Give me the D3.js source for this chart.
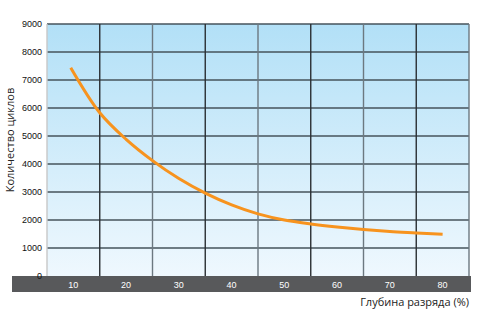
<!DOCTYPE html>
<meta charset="utf-8">
<body style="margin:0;background:#fff">
<style>
  .tick-y { font-family: "Liberation Sans", Arial, sans-serif; font-size: 9px; fill: #111; }
  .tick-x { font-family: "Liberation Sans", Arial, sans-serif; font-size: 9px; fill: #fff; }
  .title { font-family: "Open Sans", sans-serif; font-size: 11px; fill: #222; }
</style>
<svg width="484" height="330"></svg>
<script src="https://d3js.org/d3.v7.min.js"></script>
<script>

// data
var depth  = [9.5, 15, 20, 25, 30, 35, 40, 45, 50, 55, 60, 65, 70, 75, 80];
var cycles = [7440, 5830, 4880, 4120, 3480, 2960, 2540, 2220, 2000, 1860, 1750, 1660, 1590, 1540, 1490];
var xTicks = [10, 20, 30, 40, 50, 60, 70, 80];
var yTicks = [0, 1000, 2000, 3000, 4000, 5000, 6000, 7000, 8000, 9000];

var svg = d3.select("svg");
var plotL = 47, plotR = 469, plotT = 24, plotB = 276;

var x = d3.scaleLinear().domain([5, 85]).range([plotL, plotR]);
var y = d3.scaleLinear().domain([0, 9000]).range([plotB, plotT]);

// background gradient
var grad = svg.append("defs").append("linearGradient")
    .attr("id", "bg").attr("x1", 0).attr("y1", 0).attr("x2", 0).attr("y2", 1);
grad.append("stop").attr("offset", "0%").attr("stop-color", "#b2e0f7");
grad.append("stop").attr("offset", "100%").attr("stop-color", "#eff8fe");

svg.append("rect")
    .attr("x", plotL).attr("y", plotT)
    .attr("width", plotR - plotL).attr("height", plotB - plotT)
    .attr("fill", "url(#bg)");

// grid
var grid = svg.append("g");
grid.selectAll(".h").data(yTicks.slice(1)).enter().append("line")
    .attr("x1", plotL).attr("x2", plotR)
    .attr("y1", d => y(d)).attr("y2", d => y(d))
    .attr("stroke", "#46535b").attr("stroke-width", 1.4);

var vLines = d3.range(5, 86, 10);
grid.selectAll(".v").data(vLines).enter().append("line")
    .attr("x1", d => x(d)).attr("x2", d => x(d))
    .attr("y1", plotT).attr("y2", plotB)
    .attr("stroke", (d, i) => i === 0 ? "#c8c8c8" : (i % 2 ? "#2a2f33" : "#6c7880"))
    .attr("stroke-width", 1.4);

// dark x band
svg.append("rect")
    .attr("x", 12).attr("y", plotB)
    .attr("width", 459).attr("height", 16)
    .attr("fill", "#58595b");

svg.append("g").selectAll("text").data(xTicks).enter().append("text")
    .attr("class", "tick-x")
    .attr("x", d => x(d)).attr("y", plotB + 11.5)
    .attr("text-anchor", "middle")
    .text(d => d);

svg.append("g").selectAll("text").data(yTicks).enter().append("text")
    .attr("class", "tick-y")
    .attr("x", 42).attr("y", d => y(d) + 3)
    .attr("text-anchor", "end")
    .text(d => d);

// curve
var line = d3.line()
    .x((d, i) => x(depth[i]))
    .y(d => y(d))
    .curve(d3.curveCatmullRom.alpha(0.5));

svg.append("path")
    .datum(cycles)
    .attr("d", line)
    .attr("fill", "none")
    .attr("stroke", "#f7931e")
    .attr("stroke-width", 3);

// titles
svg.append("text")
    .attr("class", "title")
    .attr("transform", "translate(14,140) rotate(-90)")
    .attr("text-anchor", "middle")
    .text("Количество циклов");

svg.append("text")
    .attr("class", "title")
    .attr("x", 469).attr("y", 306)
    .attr("text-anchor", "end")
    .text("Глубина разряда (%)");

</script>
</body>
